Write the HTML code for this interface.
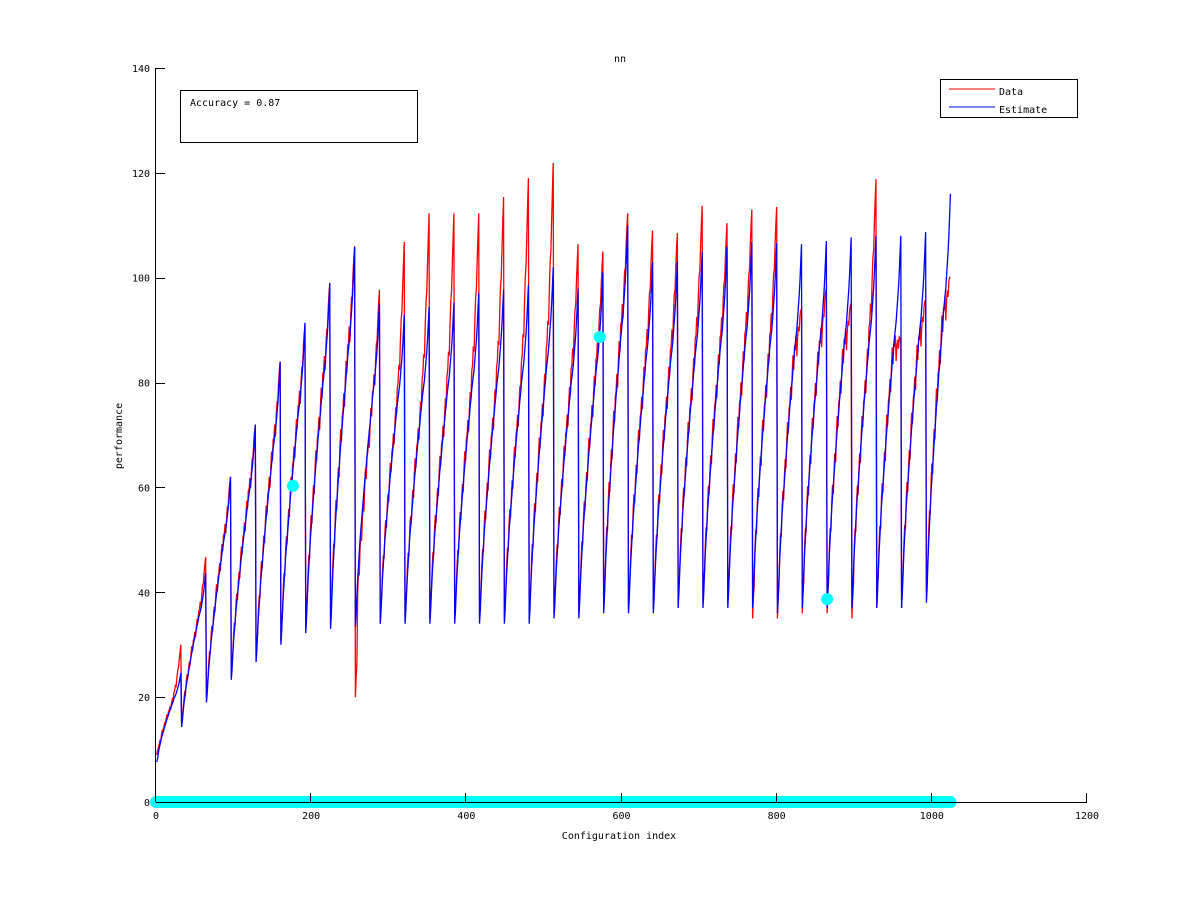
<!DOCTYPE html>
<html><head><meta charset="utf-8"><style>
html,body{margin:0;padding:0;background:#fff;}
svg{display:block;font-family:"DejaVu Sans Mono","Liberation Mono",monospace;}
</style></head><body>
<svg id="chart" width="1201" height="901" viewBox="0 0 1201 901">
<rect width="1201" height="901" fill="#fff"/>
<g id="series"></g>
<g id="axes"></g>
<text x="620" y="62" font-size="10" text-anchor="middle">nn</text>
<text x="619" y="839" font-size="10" text-anchor="middle">Configuration index</text>
<text transform="translate(122,436) rotate(-90)" font-size="10" text-anchor="middle">performance</text>
<g>
<rect x="180.5" y="90.5" width="237" height="52" fill="#fff" stroke="#000"/>
<text x="190" y="106" font-size="10">Accuracy = 0.87</text>
</g>
<g>
<rect x="940.5" y="79.5" width="137" height="38" fill="#fff" stroke="#000"/>
<line x1="949" y1="89" x2="995" y2="89" stroke="#f00"/>
<text x="999" y="95" font-size="10">Data</text>
<line x1="949" y1="107" x2="995" y2="107" stroke="#00f"/>
<text x="999" y="113" font-size="10">Estimate</text>
</g>
</svg>
<script>
const xTicks=[0,200,400,600,800,1000,1200];
const yTicks=[0,20,40,60,80,100,120,140];
const estMin=[7.6,14.3,19,23.3,26.7,30,32.2,33,33.4,34,34,34,34,34,34,34,35,35,36,36,36,37,37,37,37,36,37,37,37,37,37,38];
const estMax=[24.6,43.7,62,72,84,91.4,99,105.9,95,93,94.4,95.3,97,97.7,98.6,102,98,101,110,103,103,105,106,106.8,106.6,106.4,107,107.7,108,108,108.7,116];
const dataMin=[9,15,20,24,27,30.5,33,34,20,34,35,35,35,35,35,35,36,36,37,37,37,38,38,38,35,35,36,36,35,37,37,40];
const dataMax=[30,46.7,62,72,84,91,99,106,97.7,106.8,112.3,112.3,112.3,115.4,119,121.9,106.4,105,112.3,109,108.5,113.7,110.4,113,113.5,94,98,95,118.8,87.5,95.7,100];
const profile=[0,0.04,0.1,0.15,0.19,0.23,0.27,0.3,0.33,0.36,0.39,0.42,0.45,0.48,0.5,0.53,0.56,0.58,0.61,0.63,0.66,0.68,0.71,0.73,0.75,0.77,0.8,0.83,0.86,0.9,0.95,1.0];
const dataJitter=[0,0.015,-0.01,0.02,0.03,-0.02,0.02,0.035,-0.02,0.015,0.03,-0.025,0.02,0.04,-0.01,0.025,0.01,0.035,-0.03,0.02,0.04,-0.01,0.03,0.015,0.04,-0.02,0.02,0.035,0.01,0.03,0.02,0];
const dataPeakWeight=[0,0,0,0,0,0,0,0,0,0,0,0,0,0,0,0,0,0,0,0,0,0.05,0.1,0.15,0.2,0.3,0.4,0.5,0.6,0.7,0.85,1];
const highlightX=[176.5,572,865];
const highlightY=[60.3,88.7,38.7];
const nPoints=1024;

const X0=156,X1=1087,Y0=802,Y1=68;
function sx(v){return X0+(v-0)/(1200-0)*(X1-X0);}
function sy(v){return Y0-(v-0)/(140-0)*(Y0-Y1);}
const NS="http://www.w3.org/2000/svg";
const series=document.getElementById('series');
const axes=document.getElementById('axes');
const G=profile.length;
function estVal(g,i){return estMin[g]+profile[i]*(estMax[g]-estMin[g]);}
function dataVal(g,i){
  const range=estMax[g]-estMin[g];
  return estVal(g,i)+dataJitter[i]*range+(1-profile[i])*(dataMin[g]-estMin[g])*(i<3?1:0.3)+dataPeakWeight[i]*(dataMax[g]-estMax[g]);
}
function buildPts(fn){
  const pts=[];
  for(let g=0;g<estMin.length;g++){
    for(let i=0;i<G;i++){
      pts.push(sx(g*G+i+1).toFixed(2)+','+sy(fn(g,i)).toFixed(2));
    }
  }
  return pts.join(' ');
}
const dataLine=document.createElementNS(NS,'polyline');
dataLine.setAttribute('points',buildPts(dataVal));
dataLine.setAttribute('fill','none');dataLine.setAttribute('stroke','#f00');dataLine.setAttribute('stroke-width','1.3');


series.appendChild(dataLine);
const estLine=document.createElementNS(NS,'polyline');
estLine.setAttribute('points',buildPts(estVal));
estLine.setAttribute('fill','none');estLine.setAttribute('stroke','#00f');estLine.setAttribute('stroke-width','1.3');


series.appendChild(estLine);

const band=document.createElementNS(NS,'line');
band.setAttribute('x1',sx(0));band.setAttribute('x2',sx(nPoints));
band.setAttribute('y1',sy(0));band.setAttribute('y2',sy(0));
band.setAttribute('stroke','#0ff');band.setAttribute('stroke-width','12');band.setAttribute('stroke-linecap','round');


series.appendChild(band);
for(let i=0;i<highlightX.length;i++){
  const c=document.createElementNS(NS,'circle');
  c.setAttribute('cx',sx(highlightX[i]));c.setAttribute('cy',sy(highlightY[i]));c.setAttribute('r','6');c.setAttribute('fill','#0ff');
  
  
  series.appendChild(c);
}

function mk(tag,attrs){const e=document.createElementNS(NS,tag);for(const k in attrs)e.setAttribute(k,attrs[k]);return e;}
const xAxis=mk('line',{x1:X0,y1:Y0+0.5,x2:X1,y2:Y0+0.5,stroke:'#000'});


axes.appendChild(xAxis);
const yAxis=mk('line',{x1:X0-0.5,y1:Y1,x2:X0-0.5,y2:Y0,stroke:'#000'});


axes.appendChild(yAxis);
xTicks.forEach(t=>{
  const x=Math.round(sx(t))-0.5;
  const tk=mk('line',{x1:x,y1:Y0,x2:x,y2:Y0-9,stroke:'#000'});
  
  
  axes.appendChild(tk);
  const lb=mk('text',{x:sx(t),y:Y0+17,'font-size':'10','text-anchor':'middle'});
  lb.textContent=t;
  
  
  axes.appendChild(lb);
});
yTicks.forEach(t=>{
  const y=Math.round(sy(t))+0.5;
  const tk=mk('line',{x1:X0,y1:y,x2:X0+9,y2:y,stroke:'#000'});
  
  
  axes.appendChild(tk);
  const lb=mk('text',{x:X0-6,y:sy(t)+4,'font-size':'10','text-anchor':'end'});
  lb.textContent=t;
  
  
  axes.appendChild(lb);
});
</script>
</body></html>
